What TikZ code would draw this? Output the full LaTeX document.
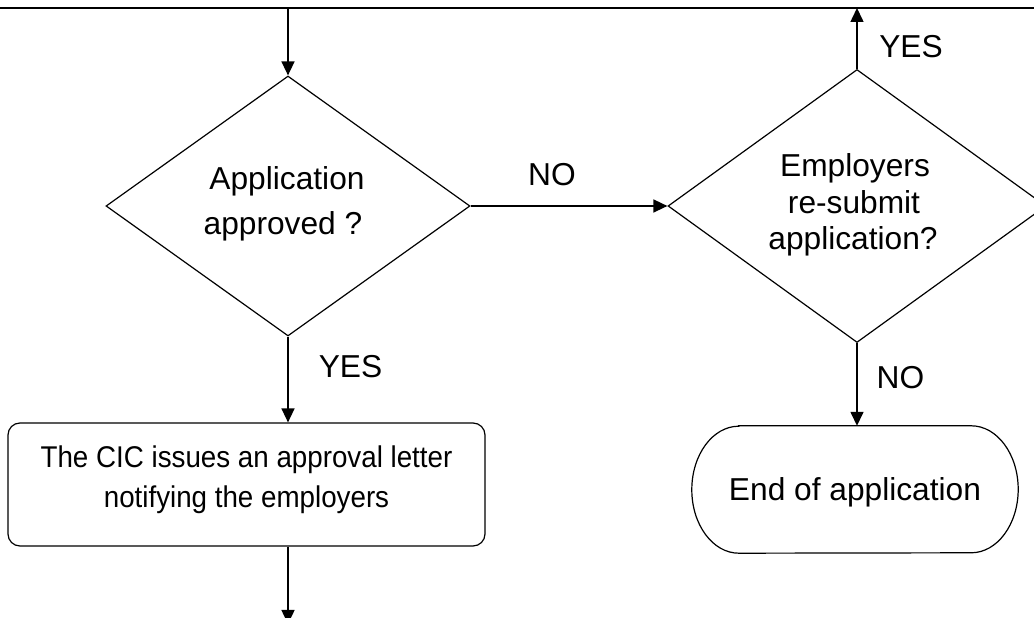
\documentclass[tikz,border=0pt]{standalone}
\usepackage{fontspec}
\setmainfont{Liberation Sans}
\newfontfamily\narrowsans[FakeStretch=0.925]{Liberation Sans}
\usetikzlibrary{arrows.meta,shapes.geometric}
\begin{document}
\begin{tikzpicture}[x=1pt,y=1pt,
  conn/.style={line width=1.5pt,-{Triangle[length=14pt,width=13pt]}},
  shp/.style={draw,line width=1.2pt},
  dec/.style={shp,diamond,inner sep=0pt},
  big/.style={font=\fontsize{31.7}{37}\selectfont,anchor=base,inner sep=0pt},
  small/.style={font=\narrowsans\fontsize{30}{36}\selectfont,anchor=base,inner sep=0pt}]
\useasboundingbox (0,0) rectangle (1034,618);
\clip (0,0) rectangle (1034,618);
% top line
\coordinate (tl) at (0,610);
\coordinate (tr) at (1034,610);
\draw[line width=1.9pt] (tl) -- (tr);
% decisions
\node[dec,minimum width=364pt,minimum height=260pt] (ld) at (288,412) {};
\node[dec,minimum width=378pt,minimum height=273pt] (rd) at (857,412) {};
\node[big] (ld1) at (287,428) {Application};
\node[big] (ld2) at (283,383) {approved ?};
\node[big] (rd1) at (855,441) {Employers};
\node[big] (rd2) at (854,404) {re-submit};
\node[big] (rd3) at (853,368) {application?};
% process box
\node[shp,rounded corners=12pt,minimum width=477pt,minimum height=123pt] (box) at (246.5,133.5) {};
\node[small] (bx1) at (246.5,150) {The CIC issues an approval letter};
\node[small] (bx2) at (246.5,110) {notifying the employers};
% terminal
\node[minimum width=326pt,minimum height=127pt,inner sep=0pt] (endn) at (855,128.5) {};
\draw[line width=1.2pt] ([xshift=47pt]endn.north west) -- ([xshift=-47pt]endn.north east)
  arc[start angle=90,end angle=-90,x radius=47pt,y radius=63.5pt]
  -- ([xshift=47pt]endn.south west)
  arc[start angle=270,end angle=90,x radius=47pt,y radius=63.5pt] -- cycle;
\node[big] (endt) at (855,117) {End of application};
% connectors
\coordinate (tin) at (288,610);
\coordinate (tout) at (857,610);
\coordinate (bot) at (288,-6);
\draw[conn] (tin) -- (ld.north);
\draw[conn] (rd.north) -- (tout);
\draw[conn] (ld.east) -- (rd.west);
\draw[conn] (ld.south) -- (ld.south |- box.north);
\draw[conn] (ld.south |- box.south) -- (bot);
\draw[conn] (rd.south) -- (rd.south |- endn.north);
% labels
\node[big] (lno) at (552,432) {NO};
\node[big] (lyes) at (350.5,240) {YES};
\node[big] (ryes) at (911,560) {YES};
\node[big] (rno) at (900.5,229) {NO};
\end{tikzpicture}
\end{document}
